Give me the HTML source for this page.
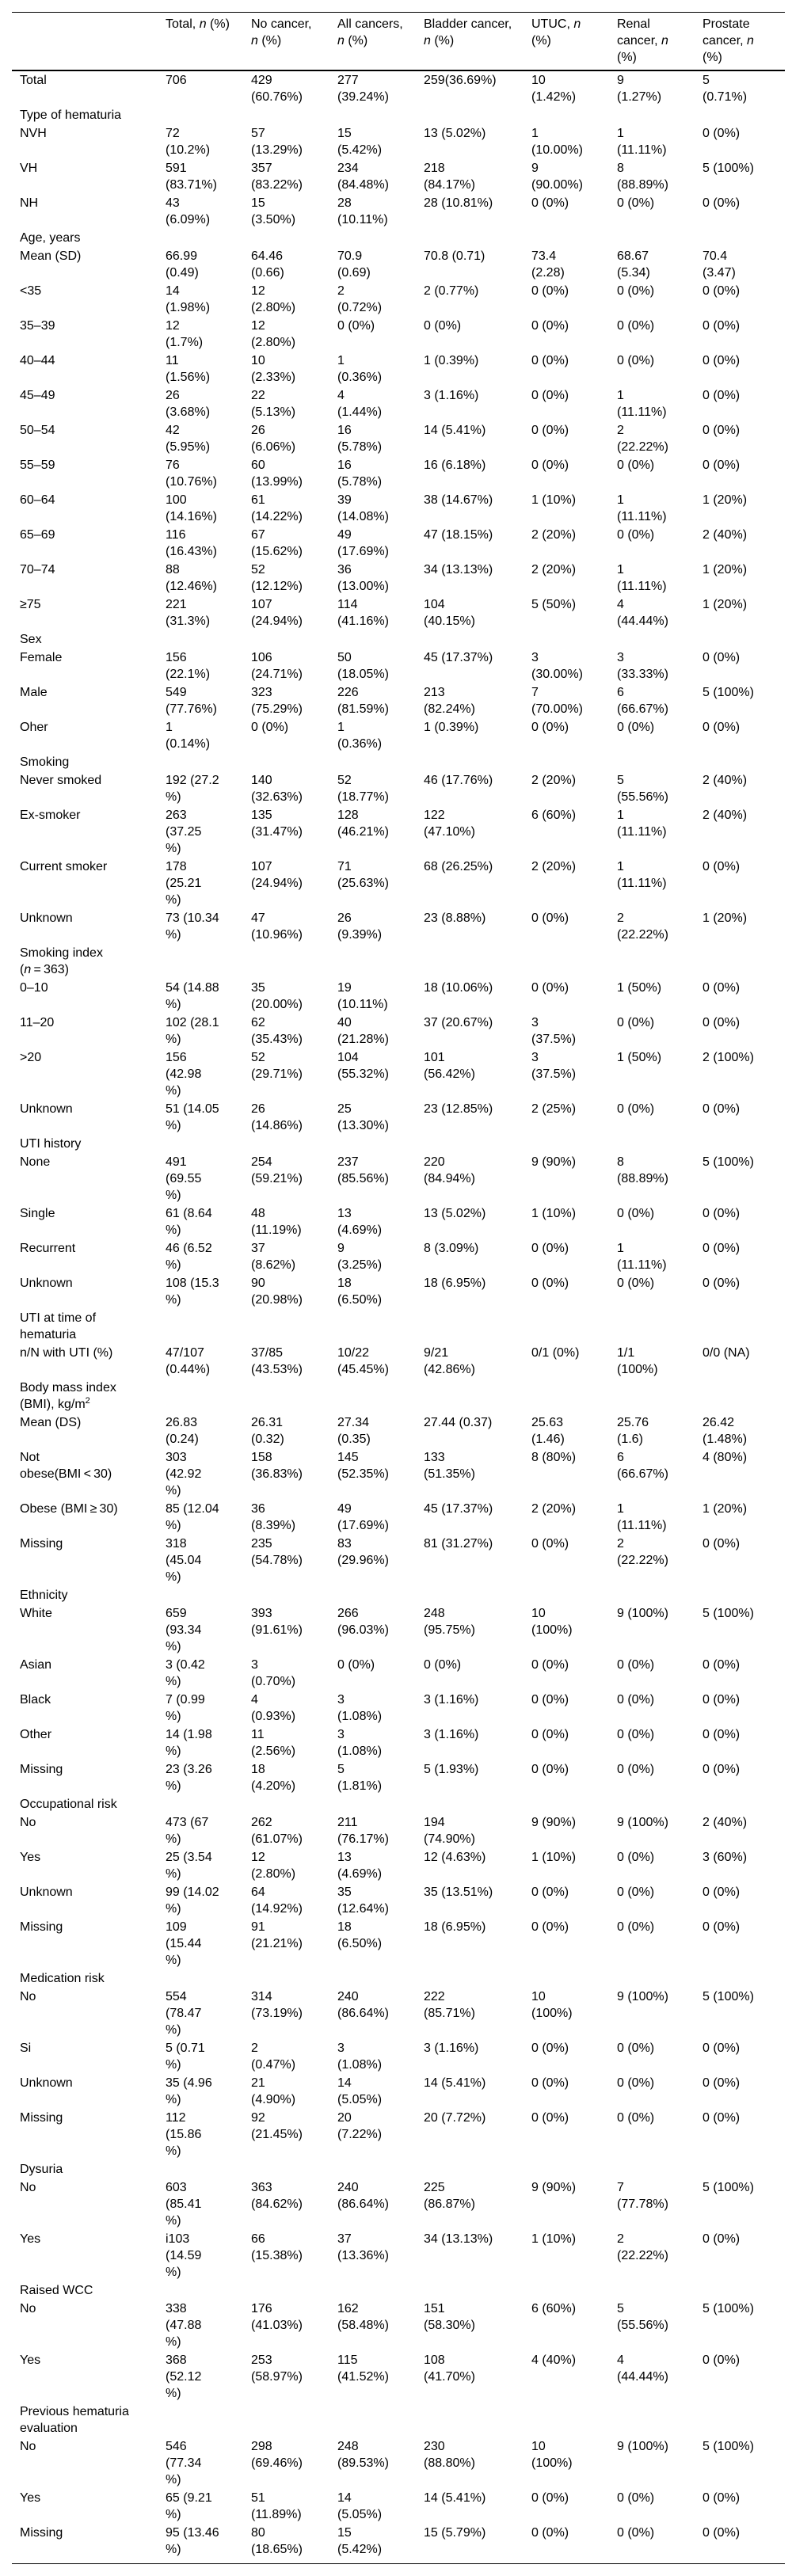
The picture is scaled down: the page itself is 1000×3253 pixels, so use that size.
<!DOCTYPE html>
<html>
<head>
<meta charset="utf-8">
<style>
  html, body { margin: 0; padding: 0; background: #fff; }
  body { width: 1000px; height: 3253px; overflow: hidden; position: relative; }
  table {
    position: absolute; left: 15px; top: 15px;
    width: 976px; table-layout: fixed;
    border-collapse: separate; border-spacing: 0;
    font-family: "Liberation Sans", Arial, sans-serif;
    font-size: 16px; color: #000;
  }
  th {
    font-weight: normal; text-align: left; vertical-align: top;
    line-height: 21px; white-space: nowrap;
    padding: 4px 10px 5px 10px;
    border-top: 1px solid #000; border-bottom: 2px solid #000;
  }
  td {
    text-align: left; vertical-align: top;
    line-height: 21px; white-space: nowrap;
    padding: 1px 10px;
  }
  tr.last td { padding-bottom: 7px; border-bottom: 1px solid #000; }
  .sup { font-size: 11px; position: relative; top: -6px; line-height: 0; }
</style>
</head>
<body>
<table>
<colgroup>
  <col style="width:184px"><col style="width:108px"><col style="width:109px"><col style="width:109px">
  <col style="width:136px"><col style="width:108px"><col style="width:108px"><col style="width:114px">
</colgroup>
<thead>
<tr>
  <th></th>
  <th>Total, <i>n</i> (%)</th>
  <th>No cancer,<br><i>n</i> (%)</th>
  <th>All cancers,<br><i>n</i> (%)</th>
  <th>Bladder cancer,<br><i>n</i> (%)</th>
  <th>UTUC, <i>n</i><br>(%)</th>
  <th>Renal<br>cancer, <i>n</i><br>(%)</th>
  <th>Prostate<br>cancer, <i>n</i><br>(%)</th>
</tr>
</thead>
<tbody>
<tr><td>Total</td><td>706</td><td>429<br>(60.76%)</td><td>277<br>(39.24%)</td><td>259(36.69%)</td><td>10<br>(1.42%)</td><td>9<br>(1.27%)</td><td>5<br>(0.71%)</td></tr>
<tr><td>Type of hematuria</td><td></td><td></td><td></td><td></td><td></td><td></td><td></td></tr>
<tr><td>NVH</td><td>72<br>(10.2%)</td><td>57<br>(13.29%)</td><td>15<br>(5.42%)</td><td>13 (5.02%)</td><td>1<br>(10.00%)</td><td>1<br>(11.11%)</td><td>0 (0%)</td></tr>
<tr><td>VH</td><td>591<br>(83.71%)</td><td>357<br>(83.22%)</td><td>234<br>(84.48%)</td><td>218<br>(84.17%)</td><td>9<br>(90.00%)</td><td>8<br>(88.89%)</td><td>5 (100%)</td></tr>
<tr><td>NH</td><td>43<br>(6.09%)</td><td>15<br>(3.50%)</td><td>28<br>(10.11%)</td><td>28 (10.81%)</td><td>0 (0%)</td><td>0 (0%)</td><td>0 (0%)</td></tr>
<tr><td>Age, years</td><td></td><td></td><td></td><td></td><td></td><td></td><td></td></tr>
<tr><td>Mean (SD)</td><td>66.99<br>(0.49)</td><td>64.46<br>(0.66)</td><td>70.9<br>(0.69)</td><td>70.8 (0.71)</td><td>73.4<br>(2.28)</td><td>68.67<br>(5.34)</td><td>70.4<br>(3.47)</td></tr>
<tr><td>&lt;35</td><td>14<br>(1.98%)</td><td>12<br>(2.80%)</td><td>2<br>(0.72%)</td><td>2 (0.77%)</td><td>0 (0%)</td><td>0 (0%)</td><td>0 (0%)</td></tr>
<tr><td>35–39</td><td>12<br>(1.7%)</td><td>12<br>(2.80%)</td><td>0 (0%)</td><td>0 (0%)</td><td>0 (0%)</td><td>0 (0%)</td><td>0 (0%)</td></tr>
<tr><td>40–44</td><td>11<br>(1.56%)</td><td>10<br>(2.33%)</td><td>1<br>(0.36%)</td><td>1 (0.39%)</td><td>0 (0%)</td><td>0 (0%)</td><td>0 (0%)</td></tr>
<tr><td>45–49</td><td>26<br>(3.68%)</td><td>22<br>(5.13%)</td><td>4<br>(1.44%)</td><td>3 (1.16%)</td><td>0 (0%)</td><td>1<br>(11.11%)</td><td>0 (0%)</td></tr>
<tr><td>50–54</td><td>42<br>(5.95%)</td><td>26<br>(6.06%)</td><td>16<br>(5.78%)</td><td>14 (5.41%)</td><td>0 (0%)</td><td>2<br>(22.22%)</td><td>0 (0%)</td></tr>
<tr><td>55–59</td><td>76<br>(10.76%)</td><td>60<br>(13.99%)</td><td>16<br>(5.78%)</td><td>16 (6.18%)</td><td>0 (0%)</td><td>0 (0%)</td><td>0 (0%)</td></tr>
<tr><td>60–64</td><td>100<br>(14.16%)</td><td>61<br>(14.22%)</td><td>39<br>(14.08%)</td><td>38 (14.67%)</td><td>1 (10%)</td><td>1<br>(11.11%)</td><td>1 (20%)</td></tr>
<tr><td>65–69</td><td>116<br>(16.43%)</td><td>67<br>(15.62%)</td><td>49<br>(17.69%)</td><td>47 (18.15%)</td><td>2 (20%)</td><td>0 (0%)</td><td>2 (40%)</td></tr>
<tr><td>70–74</td><td>88<br>(12.46%)</td><td>52<br>(12.12%)</td><td>36<br>(13.00%)</td><td>34 (13.13%)</td><td>2 (20%)</td><td>1<br>(11.11%)</td><td>1 (20%)</td></tr>
<tr><td>≥75</td><td>221<br>(31.3%)</td><td>107<br>(24.94%)</td><td>114<br>(41.16%)</td><td>104<br>(40.15%)</td><td>5 (50%)</td><td>4<br>(44.44%)</td><td>1 (20%)</td></tr>
<tr><td>Sex</td><td></td><td></td><td></td><td></td><td></td><td></td><td></td></tr>
<tr><td>Female</td><td>156<br>(22.1%)</td><td>106<br>(24.71%)</td><td>50<br>(18.05%)</td><td>45 (17.37%)</td><td>3<br>(30.00%)</td><td>3<br>(33.33%)</td><td>0 (0%)</td></tr>
<tr><td>Male</td><td>549<br>(77.76%)</td><td>323<br>(75.29%)</td><td>226<br>(81.59%)</td><td>213<br>(82.24%)</td><td>7<br>(70.00%)</td><td>6<br>(66.67%)</td><td>5 (100%)</td></tr>
<tr><td>Oher</td><td>1<br>(0.14%)</td><td>0 (0%)</td><td>1<br>(0.36%)</td><td>1 (0.39%)</td><td>0 (0%)</td><td>0 (0%)</td><td>0 (0%)</td></tr>
<tr><td>Smoking</td><td></td><td></td><td></td><td></td><td></td><td></td><td></td></tr>
<tr><td>Never smoked</td><td>192 (27.2<br>%)</td><td>140<br>(32.63%)</td><td>52<br>(18.77%)</td><td>46 (17.76%)</td><td>2 (20%)</td><td>5<br>(55.56%)</td><td>2 (40%)</td></tr>
<tr><td>Ex-smoker</td><td>263<br>(37.25<br>%)</td><td>135<br>(31.47%)</td><td>128<br>(46.21%)</td><td>122<br>(47.10%)</td><td>6 (60%)</td><td>1<br>(11.11%)</td><td>2 (40%)</td></tr>
<tr><td>Current smoker</td><td>178<br>(25.21<br>%)</td><td>107<br>(24.94%)</td><td>71<br>(25.63%)</td><td>68 (26.25%)</td><td>2 (20%)</td><td>1<br>(11.11%)</td><td>0 (0%)</td></tr>
<tr><td>Unknown</td><td>73 (10.34<br>%)</td><td>47<br>(10.96%)</td><td>26<br>(9.39%)</td><td>23 (8.88%)</td><td>0 (0%)</td><td>2<br>(22.22%)</td><td>1 (20%)</td></tr>
<tr><td>Smoking index<br>(<i>n</i>&thinsp;=&thinsp;363)</td><td></td><td></td><td></td><td></td><td></td><td></td><td></td></tr>
<tr><td>0–10</td><td>54 (14.88<br>%)</td><td>35<br>(20.00%)</td><td>19<br>(10.11%)</td><td>18 (10.06%)</td><td>0 (0%)</td><td>1 (50%)</td><td>0 (0%)</td></tr>
<tr><td>11–20</td><td>102 (28.1<br>%)</td><td>62<br>(35.43%)</td><td>40<br>(21.28%)</td><td>37 (20.67%)</td><td>3<br>(37.5%)</td><td>0 (0%)</td><td>0 (0%)</td></tr>
<tr><td>&gt;20</td><td>156<br>(42.98<br>%)</td><td>52<br>(29.71%)</td><td>104<br>(55.32%)</td><td>101<br>(56.42%)</td><td>3<br>(37.5%)</td><td>1 (50%)</td><td>2 (100%)</td></tr>
<tr><td>Unknown</td><td>51 (14.05<br>%)</td><td>26<br>(14.86%)</td><td>25<br>(13.30%)</td><td>23 (12.85%)</td><td>2 (25%)</td><td>0 (0%)</td><td>0 (0%)</td></tr>
<tr><td>UTI history</td><td></td><td></td><td></td><td></td><td></td><td></td><td></td></tr>
<tr><td>None</td><td>491<br>(69.55<br>%)</td><td>254<br>(59.21%)</td><td>237<br>(85.56%)</td><td>220<br>(84.94%)</td><td>9 (90%)</td><td>8<br>(88.89%)</td><td>5 (100%)</td></tr>
<tr><td>Single</td><td>61 (8.64<br>%)</td><td>48<br>(11.19%)</td><td>13<br>(4.69%)</td><td>13 (5.02%)</td><td>1 (10%)</td><td>0 (0%)</td><td>0 (0%)</td></tr>
<tr><td>Recurrent</td><td>46 (6.52<br>%)</td><td>37<br>(8.62%)</td><td>9<br>(3.25%)</td><td>8 (3.09%)</td><td>0 (0%)</td><td>1<br>(11.11%)</td><td>0 (0%)</td></tr>
<tr><td>Unknown</td><td>108 (15.3<br>%)</td><td>90<br>(20.98%)</td><td>18<br>(6.50%)</td><td>18 (6.95%)</td><td>0 (0%)</td><td>0 (0%)</td><td>0 (0%)</td></tr>
<tr><td>UTI at time of<br>hematuria</td><td></td><td></td><td></td><td></td><td></td><td></td><td></td></tr>
<tr><td>n/N with UTI (%)</td><td>47/107<br>(0.44%)</td><td>37/85<br>(43.53%)</td><td>10/22<br>(45.45%)</td><td>9/21<br>(42.86%)</td><td>0/1 (0%)</td><td>1/1<br>(100%)</td><td>0/0 (NA)</td></tr>
<tr><td>Body mass index<br>(BMI), kg/m<span class="sup">2</span></td><td></td><td></td><td></td><td></td><td></td><td></td><td></td></tr>
<tr><td>Mean (DS)</td><td>26.83<br>(0.24)</td><td>26.31<br>(0.32)</td><td>27.34<br>(0.35)</td><td>27.44 (0.37)</td><td>25.63<br>(1.46)</td><td>25.76<br>(1.6)</td><td>26.42<br>(1.48%)</td></tr>
<tr><td>Not<br>obese(BMI&thinsp;&lt;&thinsp;30)</td><td>303<br>(42.92<br>%)</td><td>158<br>(36.83%)</td><td>145<br>(52.35%)</td><td>133<br>(51.35%)</td><td>8 (80%)</td><td>6<br>(66.67%)</td><td>4 (80%)</td></tr>
<tr><td>Obese (BMI&thinsp;≥&thinsp;30)</td><td>85 (12.04<br>%)</td><td>36<br>(8.39%)</td><td>49<br>(17.69%)</td><td>45 (17.37%)</td><td>2 (20%)</td><td>1<br>(11.11%)</td><td>1 (20%)</td></tr>
<tr><td>Missing</td><td>318<br>(45.04<br>%)</td><td>235<br>(54.78%)</td><td>83<br>(29.96%)</td><td>81 (31.27%)</td><td>0 (0%)</td><td>2<br>(22.22%)</td><td>0 (0%)</td></tr>
<tr><td>Ethnicity</td><td></td><td></td><td></td><td></td><td></td><td></td><td></td></tr>
<tr><td>White</td><td>659<br>(93.34<br>%)</td><td>393<br>(91.61%)</td><td>266<br>(96.03%)</td><td>248<br>(95.75%)</td><td>10<br>(100%)</td><td>9 (100%)</td><td>5 (100%)</td></tr>
<tr><td>Asian</td><td>3 (0.42<br>%)</td><td>3<br>(0.70%)</td><td>0 (0%)</td><td>0 (0%)</td><td>0 (0%)</td><td>0 (0%)</td><td>0 (0%)</td></tr>
<tr><td>Black</td><td>7 (0.99<br>%)</td><td>4<br>(0.93%)</td><td>3<br>(1.08%)</td><td>3 (1.16%)</td><td>0 (0%)</td><td>0 (0%)</td><td>0 (0%)</td></tr>
<tr><td>Other</td><td>14 (1.98<br>%)</td><td>11<br>(2.56%)</td><td>3<br>(1.08%)</td><td>3 (1.16%)</td><td>0 (0%)</td><td>0 (0%)</td><td>0 (0%)</td></tr>
<tr><td>Missing</td><td>23 (3.26<br>%)</td><td>18<br>(4.20%)</td><td>5<br>(1.81%)</td><td>5 (1.93%)</td><td>0 (0%)</td><td>0 (0%)</td><td>0 (0%)</td></tr>
<tr><td>Occupational risk</td><td></td><td></td><td></td><td></td><td></td><td></td><td></td></tr>
<tr><td>No</td><td>473 (67<br>%)</td><td>262<br>(61.07%)</td><td>211<br>(76.17%)</td><td>194<br>(74.90%)</td><td>9 (90%)</td><td>9 (100%)</td><td>2 (40%)</td></tr>
<tr><td>Yes</td><td>25 (3.54<br>%)</td><td>12<br>(2.80%)</td><td>13<br>(4.69%)</td><td>12 (4.63%)</td><td>1 (10%)</td><td>0 (0%)</td><td>3 (60%)</td></tr>
<tr><td>Unknown</td><td>99 (14.02<br>%)</td><td>64<br>(14.92%)</td><td>35<br>(12.64%)</td><td>35 (13.51%)</td><td>0 (0%)</td><td>0 (0%)</td><td>0 (0%)</td></tr>
<tr><td>Missing</td><td>109<br>(15.44<br>%)</td><td>91<br>(21.21%)</td><td>18<br>(6.50%)</td><td>18 (6.95%)</td><td>0 (0%)</td><td>0 (0%)</td><td>0 (0%)</td></tr>
<tr><td>Medication risk</td><td></td><td></td><td></td><td></td><td></td><td></td><td></td></tr>
<tr><td>No</td><td>554<br>(78.47<br>%)</td><td>314<br>(73.19%)</td><td>240<br>(86.64%)</td><td>222<br>(85.71%)</td><td>10<br>(100%)</td><td>9 (100%)</td><td>5 (100%)</td></tr>
<tr><td>Si</td><td>5 (0.71<br>%)</td><td>2<br>(0.47%)</td><td>3<br>(1.08%)</td><td>3 (1.16%)</td><td>0 (0%)</td><td>0 (0%)</td><td>0 (0%)</td></tr>
<tr><td>Unknown</td><td>35 (4.96<br>%)</td><td>21<br>(4.90%)</td><td>14<br>(5.05%)</td><td>14 (5.41%)</td><td>0 (0%)</td><td>0 (0%)</td><td>0 (0%)</td></tr>
<tr><td>Missing</td><td>112<br>(15.86<br>%)</td><td>92<br>(21.45%)</td><td>20<br>(7.22%)</td><td>20 (7.72%)</td><td>0 (0%)</td><td>0 (0%)</td><td>0 (0%)</td></tr>
<tr><td>Dysuria</td><td></td><td></td><td></td><td></td><td></td><td></td><td></td></tr>
<tr><td>No</td><td>603<br>(85.41<br>%)</td><td>363<br>(84.62%)</td><td>240<br>(86.64%)</td><td>225<br>(86.87%)</td><td>9 (90%)</td><td>7<br>(77.78%)</td><td>5 (100%)</td></tr>
<tr><td>Yes</td><td>i103<br>(14.59<br>%)</td><td>66<br>(15.38%)</td><td>37<br>(13.36%)</td><td>34 (13.13%)</td><td>1 (10%)</td><td>2<br>(22.22%)</td><td>0 (0%)</td></tr>
<tr><td>Raised WCC</td><td></td><td></td><td></td><td></td><td></td><td></td><td></td></tr>
<tr><td>No</td><td>338<br>(47.88<br>%)</td><td>176<br>(41.03%)</td><td>162<br>(58.48%)</td><td>151<br>(58.30%)</td><td>6 (60%)</td><td>5<br>(55.56%)</td><td>5 (100%)</td></tr>
<tr><td>Yes</td><td>368<br>(52.12<br>%)</td><td>253<br>(58.97%)</td><td>115<br>(41.52%)</td><td>108<br>(41.70%)</td><td>4 (40%)</td><td>4<br>(44.44%)</td><td>0 (0%)</td></tr>
<tr><td>Previous hematuria<br>evaluation</td><td></td><td></td><td></td><td></td><td></td><td></td><td></td></tr>
<tr><td>No</td><td>546<br>(77.34<br>%)</td><td>298<br>(69.46%)</td><td>248<br>(89.53%)</td><td>230<br>(88.80%)</td><td>10<br>(100%)</td><td>9 (100%)</td><td>5 (100%)</td></tr>
<tr><td>Yes</td><td>65 (9.21<br>%)</td><td>51<br>(11.89%)</td><td>14<br>(5.05%)</td><td>14 (5.41%)</td><td>0 (0%)</td><td>0 (0%)</td><td>0 (0%)</td></tr>
<tr class="last"><td>Missing</td><td>95 (13.46<br>%)</td><td>80<br>(18.65%)</td><td>15<br>(5.42%)</td><td>15 (5.79%)</td><td>0 (0%)</td><td>0 (0%)</td><td>0 (0%)</td></tr>
</tbody>
</table>
</body>
</html>
